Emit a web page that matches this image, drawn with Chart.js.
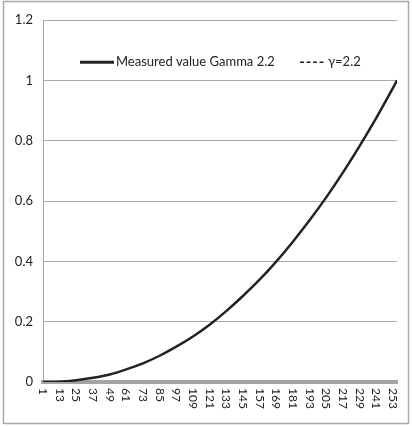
<!DOCTYPE html>
<html>
<head>
<meta charset="utf-8">
<script src="https://cdn.jsdelivr.net/npm/chart.js@4/dist/chart.umd.min.js"></script>
<style>
  html, body { margin: 0; padding: 0; background: #fff; }
  #wrap { width: 412px; height: 426px; }
</style>
</head>
<body>
<div id="wrap"><canvas id="chart" width="412" height="426"></canvas></div>
<script>
const inputLevels = [1, 13, 25, 37, 49, 61, 73, 85, 97, 109, 121, 133, 145, 157, 169, 181, 193, 205, 217, 229, 241, 253, 256];
const measuredValues = [0, 0.001, 0.006, 0.014, 0.025, 0.042, 0.062, 0.087, 0.117, 0.151, 0.19, 0.235, 0.285, 0.339, 0.399, 0.465, 0.536, 0.612, 0.694, 0.782, 0.875, 0.974, 1];
const gammaValues = [0, 0.001, 0.006, 0.014, 0.025, 0.042, 0.062, 0.087, 0.117, 0.151, 0.19, 0.235, 0.285, 0.339, 0.399, 0.465, 0.536, 0.612, 0.694, 0.782, 0.875, 0.974, 1];
const xTickLabels = [1, 13, 25, 37, 49, 61, 73, 85, 97, 109, 121, 133, 145, 157, 169, 181, 193, 205, 217, 229, 241, 253];
const yTicks = [0, 0.2, 0.4, 0.6, 0.8, 1, 1.2];
const seriesNames = ['Measured value Gamma 2.2', 'γ=2.2'];

const FONT = "Lato, 'Open Sans', sans-serif";
const INK = '#222';

function toPoints(xs, ys) {
    return xs.map((x, i) => ({ x: x, y: ys[i] }));
}

// frame round the whole picture
const framePlugin = {
    id: 'frame',
    beforeDraw(chart) {
        const ctx = chart.ctx;
        ctx.save();
        ctx.fillStyle = '#fff';
        ctx.fillRect(0, 0, chart.width, chart.height);
        ctx.strokeStyle = '#a8a8a8';
        ctx.lineWidth = 1.5;
        ctx.strokeRect(3.5, 1.5, 405, 422);
        ctx.restore();
    }
};

// x labels rotated clockwise, reading top to bottom
const xLabelPlugin = {
    id: 'xLabels',
    afterDraw(chart) {
        const ctx = chart.ctx;
        const xs = chart.scales.x;
        const top = chart.chartArea.bottom + 6;
        ctx.save();
        ctx.fillStyle = INK;
        ctx.font = '12px ' + FONT;
        ctx.textAlign = 'left';
        ctx.textBaseline = 'middle';
        xTickLabels.forEach(v => {
            const px = xs.getPixelForValue(v);
            ctx.save();
            ctx.translate(px, top);
            ctx.rotate(Math.PI / 2);
            ctx.fillText(String(v), 0, 0);
            ctx.restore();
        });
        ctx.restore();
    }
};

// legend inside the plot, between 1 and 1.2
const legendPlugin = {
    id: 'innerLegend',
    afterDraw(chart) {
        const ctx = chart.ctx;
        const y = chart.scales.y.getPixelForValue(1.06);
        ctx.save();
        ctx.font = '13px ' + FONT;
        ctx.fillStyle = INK;
        ctx.textBaseline = 'middle';
        ctx.strokeStyle = INK;

        ctx.lineWidth = 3;
        ctx.beginPath();
        ctx.moveTo(80, y);
        ctx.lineTo(114, y);
        ctx.stroke();
        ctx.fillText(seriesNames[0], 116, y);

        ctx.lineWidth = 1.5;
        ctx.setLineDash([4, 2.5]);
        ctx.beginPath();
        ctx.moveTo(300, y);
        ctx.lineTo(325, y);
        ctx.stroke();
        ctx.setLineDash([]);
        ctx.fillText(seriesNames[1], 328, y);
        ctx.restore();
    }
};

const ctx = document.getElementById('chart').getContext('2d');
new Chart(ctx, {
    type: 'line',
    data: {
        datasets: [{
            label: seriesNames[0],
            data: toPoints(inputLevels, measuredValues),
            borderColor: INK,
            borderWidth: 2.5,
            pointRadius: 0,
            cubicInterpolationMode: 'monotone',
            fill: false
        }, {
            label: seriesNames[1],
            data: toPoints(inputLevels, gammaValues),
            borderColor: INK,
            borderWidth: 1,
            borderDash: [4, 3],
            pointRadius: 0,
            cubicInterpolationMode: 'monotone',
            fill: false
        }]
    },
    options: {
        responsive: false,
        animation: false,
        devicePixelRatio: 1,
        layout: { padding: { left: 0, right: 15, top: 20, bottom: 0 } },
        plugins: {
            legend: { display: false },
            tooltip: { enabled: false }
        },
        scales: {
            x: {
                type: 'linear',
                min: 1,
                max: 256,
                afterFit: s => { s.height = 44; },
                afterBuildTicks: s => { s.ticks = xTickLabels.map(v => ({ value: v })); },
                ticks: { display: false },
                grid: { display: false, drawTicks: false },
                border: { display: true, color: '#a4a4a4', width: 4 }
            },
            y: {
                min: 0,
                max: 1.2,
                afterFit: s => { s.width = 43; },
                afterBuildTicks: s => { s.ticks = yTicks.map(v => ({ value: v })); },
                ticks: {
                    padding: 10,
                    color: INK,
                    font: { family: FONT, size: 13 },
                    callback: v => String(Math.round(v * 10) / 10)
                },
                grid: { color: '#a8a8a8', lineWidth: 1, drawTicks: false },
                border: { display: true, color: '#a8a8a8', width: 1 }
            }
        }
    },
    plugins: [framePlugin, xLabelPlugin, legendPlugin]
});
</script>
</body>
</html>
